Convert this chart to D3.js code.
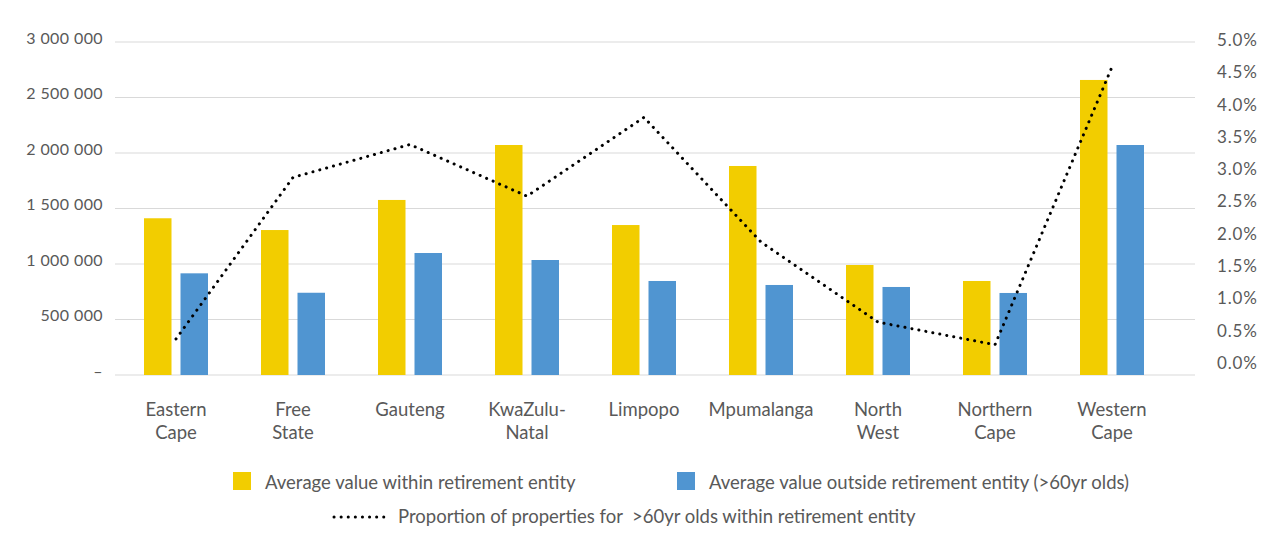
<!DOCTYPE html>
<html>
<head>
<meta charset="utf-8">
<script src="https://cdn.jsdelivr.net/npm/d3@7"></script>
<style>
  body { margin: 0; background: #fff; }
  text { font-family: Lato, "Open Sans", sans-serif; fill: #595959; white-space: pre; }
</style>
</head>
<body>
<svg id="chart" width="1280" height="534"></svg>
<script>
// provinces and series
var provinces = ["Eastern Cape", "Free State", "Gauteng", "KwaZulu-Natal", "Limpopo",
                 "Mpumalanga", "North West", "Northern Cape", "Western Cape"];
var labelLines = [["Eastern", "Cape"], ["Free", "State"], ["Gauteng"], ["KwaZulu-", "Natal"], ["Limpopo"],
                  ["Mpumalanga"], ["North", "West"], ["Northern", "Cape"], ["Western", "Cape"]];
var withinValues  = [1412000, 1306000, 1577000, 2072000, 1351000, 1883000, 991000, 847000, 2658000];
var outsideValues = [916000, 741000, 1099000, 1036000, 847000, 811000, 793000, 739000, 2072000];
var proportion    = [0.0045, 0.0295, 0.0346, 0.0266, 0.0388, 0.0195, 0.0071, 0.0036, 0.0466];
var leftTicks  = [0, 500000, 1000000, 1500000, 2000000, 2500000, 3000000];
var rightTicks = [0, 0.005, 0.01, 0.015, 0.02, 0.025, 0.03, 0.035, 0.04, 0.045, 0.05];

var seriesNames = ["Average value within retirement entity",
                   "Average value outside retirement entity (>60yr olds)",
                   "Proportion of properties for  >60yr olds within retirement entity"];
var yellow = "#F2CD00", blue = "#5095D1";

var svg = d3.select("#chart");

var x0 = d3.scaleBand().domain(provinces).range([117.5, 1170.5]);
var x1 = d3.scaleBand().domain(["in", "out"]).range([0, 64]).paddingInner(9 / 36.5);
var y = d3.scaleLinear().domain([0, 3000000]).range([375, 42]);
var yR = d3.scaleLinear().domain([0, 0.05]).range([368, 45]);

// gridlines
svg.append("g").selectAll("line").data(leftTicks).join("line")
  .attr("x1", 115).attr("x2", 1195)
  .attr("y1", d => y(d)).attr("y2", d => y(d))
  .attr("stroke", "#D9D9D9").attr("stroke-width", 1);

// left axis
var fmt = function (d) {
  if (d === 0) return "–";
  return d3.format(",")(d).replace(/,/g, " ");
};
var leftAxis = d3.axisLeft(y).tickValues(leftTicks).tickFormat(fmt).tickSize(0).tickPadding(0);
var gl = svg.append("g").attr("transform", "translate(103,-4)").call(leftAxis);
gl.select(".domain").remove();
gl.selectAll("text").style("font-size", "16px").style("letter-spacing", "0.4px").attr("fill", "#595959");

// right axis
var rightAxis = d3.axisRight(yR).tickValues(rightTicks).tickFormat(d3.format(".1%")).tickSize(0).tickPadding(0);
var gr = svg.append("g").attr("transform", "translate(1217,-5)").call(rightAxis);
gr.select(".domain").remove();
gr.selectAll("text").style("font-size", "17px").style("letter-spacing", "0.8px").attr("fill", "#595959");

// bars
var groups = svg.append("g").selectAll("g").data(provinces).join("g")
  .attr("transform", d => "translate(" + (x0(d) + x0.bandwidth() / 2 - 32) + ",0)");

groups.append("rect")
  .attr("x", x1("in")).attr("width", x1.bandwidth())
  .attr("y", (d, i) => y(withinValues[i]))
  .attr("height", (d, i) => y(0) - y(withinValues[i]))
  .attr("fill", yellow);

groups.append("rect")
  .attr("x", x1("out")).attr("width", x1.bandwidth())
  .attr("y", (d, i) => y(outsideValues[i]))
  .attr("height", (d, i) => y(0) - y(outsideValues[i]))
  .attr("fill", blue);

// dotted proportion line
var line = d3.line()
  .x((d, i) => x0(provinces[i]) + x0.bandwidth() / 2)
  .y(d => yR(d));

svg.append("path").datum(proportion)
  .attr("d", line)
  .attr("fill", "none")
  .attr("stroke", "#000")
  .attr("stroke-width", 3)
  .attr("stroke-linecap", "round")
  .attr("stroke-dasharray", "0.1 7");

// category labels
var xl = svg.append("g").selectAll("text").data(provinces).join("text")
  .attr("x", d => x0(d) + x0.bandwidth() / 2)
  .attr("y", 416)
  .attr("text-anchor", "middle")
  .style("font-size", "18.5px");
xl.selectAll("tspan").data((d, i) => labelLines[i]).join("tspan")
  .attr("x", function () { return d3.select(this.parentNode).attr("x"); })
  .attr("dy", (d, j) => j === 0 ? 0 : 23)
  .text(d => d);

// legend
var lg = svg.append("g");
lg.append("rect").attr("x", 233).attr("y", 472).attr("width", 18).attr("height", 18).attr("fill", yellow);
lg.append("text").attr("x", 265).attr("y", 489).style("font-size", "18.5px").text(seriesNames[0]);
lg.append("rect").attr("x", 677).attr("y", 472).attr("width", 18).attr("height", 18).attr("fill", blue);
lg.append("text").attr("x", 709).attr("y", 489).style("font-size", "18.5px").text(seriesNames[1]);
lg.append("line").attr("x1", 334).attr("x2", 385).attr("y1", 517).attr("y2", 517)
  .attr("stroke", "#000").attr("stroke-width", 3)
  .attr("stroke-linecap", "round").attr("stroke-dasharray", "0.1 7");
lg.append("text").attr("x", 398).attr("y", 523).style("font-size", "18.5px").text(seriesNames[2]);
</script>
</body>
</html>
